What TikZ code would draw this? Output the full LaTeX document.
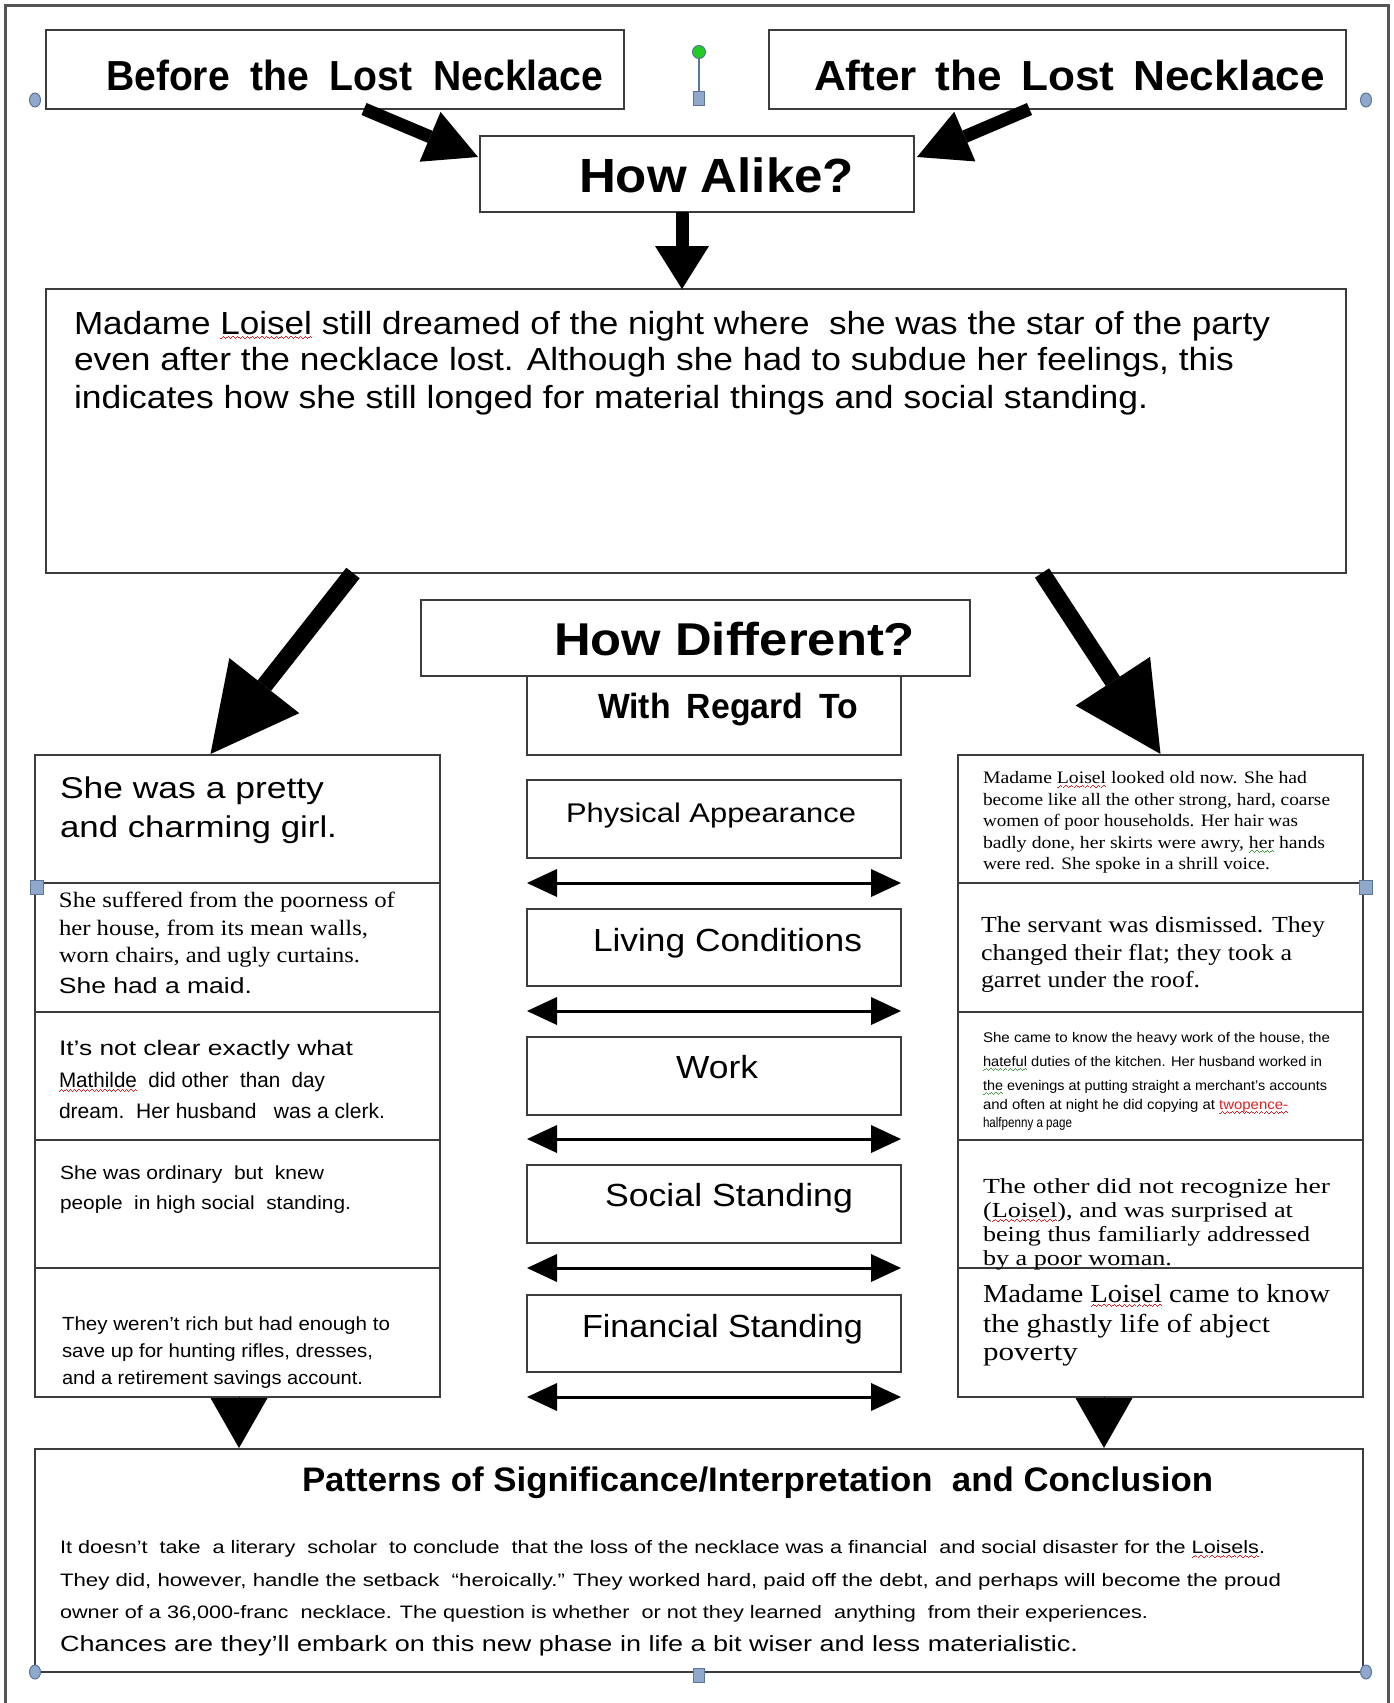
\documentclass[tikz,border=0pt]{standalone}
\usepackage{fontspec}
\setmainfont{Liberation Sans}
\newfontfamily\seriffam{Liberation Serif}
\usepackage{graphicx}
\usetikzlibrary{arrows.meta,calc,shapes.geometric}
\definecolor{boxline}{HTML}{3C3C3C}
\definecolor{framecol}{HTML}{555555}
\definecolor{hdlfill}{HTML}{8FA8CC}
\definecolor{hdldraw}{HTML}{5C7599}
\definecolor{hdlgreen}{HTML}{22CC22}
\definecolor{sqred}{HTML}{E02020}
\definecolor{sqgreen}{HTML}{40A040}
\newcommand{\fsz}[1]{\fontsize{#1}{#1}\selectfont}
\newsavebox{\sqbox}
\newcommand{\squig}[2]{\sbox{\sqbox}{#2}\rlap{\usebox{\sqbox}}{\color{#1}\xleaders\hbox{\rule[-5pt]{1.1pt}{1pt}\rule[-4.2pt]{1.1pt}{1pt}\rule[-3.4pt]{1.1pt}{1pt}\rule[-4.2pt]{1.1pt}{1pt}}\hskip\wd\sqbox}}
\newcommand{\redsq}[1]{\squig{sqred}{#1}}
\newcommand{\greensq}[1]{\squig{sqgreen}{#1}}
\newcommand{\fitw}[2]{\resizebox{#1pt}{\height}{#2}}
\tikzset{
  box/.style={draw=boxline, line width=2.5pt, inner sep=0pt, outer sep=0pt, anchor=north west, fill=white},
  txt/.style={inner sep=0pt, outer sep=0pt, anchor=base west, text=black},
  bigarrow/.style={line width=17pt, -{Triangle[length=87pt,width=89pt,line width=0pt]}},
  midarrow/.style={line width=13pt, -{Triangle[length=52pt,width=54pt,line width=0pt]}},
  downarrow/.style={line width=13pt, -{Triangle[length=43pt,width=54pt,line width=0pt]}},
  duo/.style={line width=3pt, >={Triangle[length=30pt,width=28pt,line width=0pt]}, <->},
  wedge/.style={line width=1pt, -{Triangle[length=50pt,width=57pt,line width=0pt]}},
  hdl/.style={draw=hdldraw, fill=hdlfill, line width=1pt, inner sep=0pt, outer sep=0pt},
}
\begin{document}
\begin{tikzpicture}[x=1pt,y=-1pt]
\useasboundingbox (0,0) rectangle (1393,1703);
\fill[white] (0,0) rectangle (1393,1703);
\draw[line width=3pt, framecol] (5,1703) -- (5,5) -- (1388,5) -- (1388,1703);

% boxes
\node[box, minimum width=578pt, minimum height=79pt] (before) at (46,30) {};
\node[box, minimum width=577pt, minimum height=79pt] (after) at (769,30) {};
\node[box, minimum width=434pt, minimum height=76pt] (alike) at (480,136) {};
\node[box, minimum width=1300pt, minimum height=284pt] (big) at (46,289) {};
\node[box, minimum width=549pt, minimum height=76pt] (diff) at (421,600) {};
\node[box, minimum width=374pt, minimum height=79pt] (wrt) at (527,676) {};
\node[box, minimum width=374pt, minimum height=78pt] (pa) at (527,780) {};
\node[box, minimum width=374pt, minimum height=77pt] (lc) at (527,909) {};
\node[box, minimum width=374pt, minimum height=78pt] (wk) at (527,1037) {};
\node[box, minimum width=374pt, minimum height=78pt] (ss) at (527,1165) {};
\node[box, minimum width=374pt, minimum height=77pt] (fin) at (527,1295) {};
\node[box, minimum width=405pt, minimum height=128pt] (l1) at (35,755) {};
\node[box, minimum width=405pt, minimum height=129pt] (l2) at (35,883) {};
\node[box, minimum width=405pt, minimum height=128pt] (l3) at (35,1012) {};
\node[box, minimum width=405pt, minimum height=128pt] (l4) at (35,1140) {};
\node[box, minimum width=405pt, minimum height=129pt] (l5) at (35,1268) {};
\node[box, minimum width=405pt, minimum height=128pt] (r1) at (958,755) {};
\node[box, minimum width=405pt, minimum height=129pt] (r2) at (958,883) {};
\node[box, minimum width=405pt, minimum height=128pt] (r3) at (958,1012) {};
\node[box, minimum width=405pt, minimum height=128pt] (r4) at (958,1140) {};
\node[box, minimum width=405pt, minimum height=129pt] (r5) at (958,1268) {};
\node[box, minimum width=1328pt, minimum height=223pt] (concl) at (35,1449) {};

% connectors
\draw[midarrow] ($(before.south)+(29,0)$) -- ($(alike.west)+(-2,-17)$);
\draw[midarrow] ($(after.south)+(-28,0)$) -- ($(alike.east)+(3,-17)$);
\draw[downarrow] ($(alike.south)+(-15,0)$) -- ($(big.north)+(-14,0)$);
\draw[bigarrow] ($(big.south west)+(307,0)$) -- ($(l1.north)+(-27,-1)$);
\draw[bigarrow] ($(big.south east)+(-304,0)$) -- ($(r1.north)+(0,-1)$);
\draw[duo] ($(pa.south west)+(0,25)$) -- ($(pa.south east)+(0,25)$);
\draw[duo] ($(lc.south west)+(0,25)$) -- ($(lc.south east)+(0,25)$);
\draw[duo] ($(wk.south west)+(0,24)$) -- ($(wk.south east)+(0,24)$);
\draw[duo] ($(ss.south west)+(0,25)$) -- ($(ss.south east)+(0,25)$);
\draw[duo] ($(fin.south west)+(0,25)$) -- ($(fin.south east)+(0,25)$);
\draw[wedge] ($(l5.south)+(1.5,0)$) -- ($(concl.north west)+(204,-1)$);
\draw[wedge] ($(r5.south west)+(146,0)$) -- ($(concl.north west)+(1069,-1)$);

% titles
\node[txt,font=\bfseries\fsz{42}] (tBefore) at (106,90) {\fitw{497}{Before\hspace{.25em} the\hspace{.25em} Lost\hspace{.25em} Necklace}};
\node[txt,font=\bfseries\fsz{42}] (tAfter) at (814,90) {\fitw{511}{After\hspace{.15em} the\hspace{.15em} Lost\hspace{.15em} Necklace}};
\node[txt,font=\bfseries\fsz{48}] (tAlike) at (579,192) {\fitw{275}{How Alike?}};
\node[txt,font=\bfseries\fsz{46}] (tDiff) at (554,655) {\fitw{361}{How Different?}};
\node[txt,font=\bfseries\fsz{35}] (tWrt) at (598,718) {\fitw{260}{With\hspace{.2em} Regard\hspace{.2em} To}};
\node[txt,font=\fsz{27}] (tPa) at (566,822) {\fitw{290}{Physical Appearance}};
\node[txt,font=\fsz{32}] (tLc) at (593,951) {\fitw{269}{Living Conditions}};
\node[txt,font=\fsz{32}] (tWk) at (676,1078) {\fitw{82}{Work}};
\node[txt,font=\fsz{32}] (tSs) at (605,1206) {\fitw{248}{Social Standing}};
\node[txt,font=\fsz{32}] (tFs) at (582,1337) {\fitw{281}{Financial Standing}};

% big box text
\node[txt,font=\fsz{32}] (m1) at (74,334) {\fitw{1196}{Madame \redsq{Loisel} still dreamed of the night where\ \ she was the star of the party}};
\node[txt,font=\fsz{32}] (m2) at (74,370) {\fitw{1160}{even after the necklace lost. Although she had to subdue her feelings, this}};
\node[txt,font=\fsz{32}] (m3) at (74,408) {\fitw{1074}{indicates how she still longed for material things and social standing.}};

% left column
\node[txt,font=\fsz{30}] (a1) at (60,798) {\fitw{264}{She was a pretty}};
\node[txt,font=\fsz{30}] (a2) at (60,837) {\fitw{277}{and charming girl.}};
\node[txt,font=\seriffam\fsz{22}] (b1) at (59,907) {\fitw{336}{She suffered from the poorness of}};
\node[txt,font=\seriffam\fsz{22}] (b2) at (59,935) {\fitw{309}{her house, from its mean walls,}};
\node[txt,font=\seriffam\fsz{22}] (b3) at (59,962) {\fitw{301}{worn chairs, and ugly curtains.}};
\node[txt,font=\fsz{22}] (b4) at (59,993) {\fitw{193}{She had a maid.}};
\node[txt,font=\fsz{21}] (c1) at (59,1055) {\fitw{294}{It's not clear exactly what}};
\node[txt,font=\fsz{21}] (c2) at (59,1087) {\fitw{266}{\redsq{Mathilde}\ \ did other\ \ than\ \ day}};
\node[txt,font=\fsz{21}] (c3) at (59,1118) {\fitw{326}{dream.\ \ Her husband\ \ \ was a clerk.}};
\node[txt,font=\fsz{19}] (d1) at (60,1179) {\fitw{264}{She was ordinary\ \ but\ \ knew}};
\node[txt,font=\fsz{19}] (d2) at (60,1209) {\fitw{291}{people\ \ in high social\ \ standing.}};
\node[txt,font=\fsz{19}] (e1) at (62,1330) {\fitw{328}{They weren't rich but had enough to}};
\node[txt,font=\fsz{19}] (e2) at (62,1357) {\fitw{311}{save up for hunting rifles, dresses,}};
\node[txt,font=\fsz{19}] (e3) at (62,1384) {\fitw{301}{and a retirement savings account.}};

% right column
\node[txt,font=\seriffam\fsz{17.5}] (f1) at (983,783) {\fitw{324}{Madame \redsq{Loisel} looked old now. She had}};
\node[txt,font=\seriffam\fsz{17.5}] (f2) at (983,805) {\fitw{347}{become like all the other strong, hard, coarse}};
\node[txt,font=\seriffam\fsz{17.5}] (f3) at (983,826) {\fitw{315}{women of poor households. Her hair was}};
\node[txt,font=\seriffam\fsz{17.5}] (f4) at (983,848) {\fitw{342}{badly done, her skirts were awry, \greensq{her} hands}};
\node[txt,font=\seriffam\fsz{17.5}] (f5) at (983,869) {\fitw{287}{were red. She spoke in a shrill voice.}};
\node[txt,font=\seriffam\fsz{23}] (g1) at (981,932) {\fitw{344}{The servant was dismissed. They}};
\node[txt,font=\seriffam\fsz{23}] (g2) at (981,960) {\fitw{311}{changed their flat; they took a}};
\node[txt,font=\seriffam\fsz{23}] (g3) at (981,987) {\fitw{219}{garret under the roof.}};
\node[txt,font=\fsz{14}] (h1) at (983,1042) {\fitw{347}{She came to know the heavy work of the house, the}};
\node[txt,font=\fsz{14}] (h2) at (983,1066) {\fitw{339}{\greensq{hateful} duties of the kitchen. Her husband worked in}};
\node[txt,font=\fsz{14}] (h3) at (983,1090) {\fitw{344}{\greensq{the} evenings at putting straight a merchant's accounts}};
\node[txt,font=\fsz{14}] (h4) at (983,1109) {\fitw{305}{and often at night he did copying at \textcolor{sqred}{\redsq{twopence-}}}};
\node[txt,font=\fsz{14}] (h5) at (983,1127) {\fitw{89}{halfpenny a page}};
\node[txt,font=\seriffam\fsz{21.5}] (i1) at (983,1193) {\fitw{347}{The other did not recognize her}};
\node[txt,font=\seriffam\fsz{21.5}] (i2) at (983,1217) {\fitw{310}{(\redsq{Loisel}), and was surprised at}};
\node[txt,font=\seriffam\fsz{21.5}] (i3) at (983,1241) {\fitw{327}{being thus familiarly addressed}};
\node[txt,font=\seriffam\fsz{21.5}] (i4) at (983,1265) {\fitw{189}{by a poor woman.}};
\node[txt,font=\seriffam\fsz{26}] (j1) at (983,1302) {\fitw{347}{Madame \redsq{Loisel} came to know}};
\node[txt,font=\seriffam\fsz{26}] (j2) at (983,1332) {\fitw{287}{the ghastly life of abject}};
\node[txt,font=\seriffam\fsz{26}] (j3) at (983,1360) {\fitw{95}{poverty}};

% conclusion
\node[txt,font=\bfseries\fsz{34}] (pTitle) at (302,1491) {\fitw{911}{Patterns of Significance/Interpretation\ \ and Conclusion}};
\node[txt,font=\fsz{18}] (p1) at (60,1553) {\fitw{1205}{It doesn't\ \ take\ \ a literary\ \ scholar\ \ to conclude\ \ that the loss of the necklace was a financial\ \ and social disaster for the \redsq{Loisels}.}};
\node[txt,font=\fsz{18}] (p2) at (60,1586) {\fitw{1221}{They did, however, handle the setback\ \ ``heroically.'' They worked hard, paid off the debt, and perhaps will become the proud}};
\node[txt,font=\fsz{18}] (p3) at (60,1618) {\fitw{1088}{owner of a 36,000-franc\ \ necklace. The question is whether\ \ or not they learned\ \ anything\ \ from their experiences.}};
\node[txt,font=\fsz{22}] (p4) at (60,1651) {\fitw{1018}{Chances are they'll embark on this new phase in life a bit wiser and less materialistic.}};

% selection handles
\node[draw=hdldraw, fill=hdlgreen, circle, minimum size=13pt, inner sep=0pt, line width=1pt] (hRot) at (699,52) {};
\node[hdl, rectangle, minimum width=11pt, minimum height=14pt] (hTop) at (699,98) {};
\draw[hdldraw, line width=1.5pt] (hRot) -- (hTop);
\node[hdl, ellipse, minimum width=11pt, minimum height=14pt] (hTL) at (35,100) {};
\node[hdl, ellipse, minimum width=11pt, minimum height=14pt] (hTR) at (1366,100) {};
\node[hdl, rectangle, minimum width=13pt, minimum height=14pt] (hML) at (37,887) {};
\node[hdl, rectangle, minimum width=13pt, minimum height=14pt] (hMR) at (1366,887) {};
\node[hdl, ellipse, minimum width=11pt, minimum height=14pt] (hBL) at (35,1672) {};
\node[hdl, ellipse, minimum width=11pt, minimum height=14pt] (hBR) at (1366,1672) {};
\node[hdl, rectangle, minimum width=11pt, minimum height=14pt] (hBM) at (699,1675) {};
\end{tikzpicture}
\end{document}
